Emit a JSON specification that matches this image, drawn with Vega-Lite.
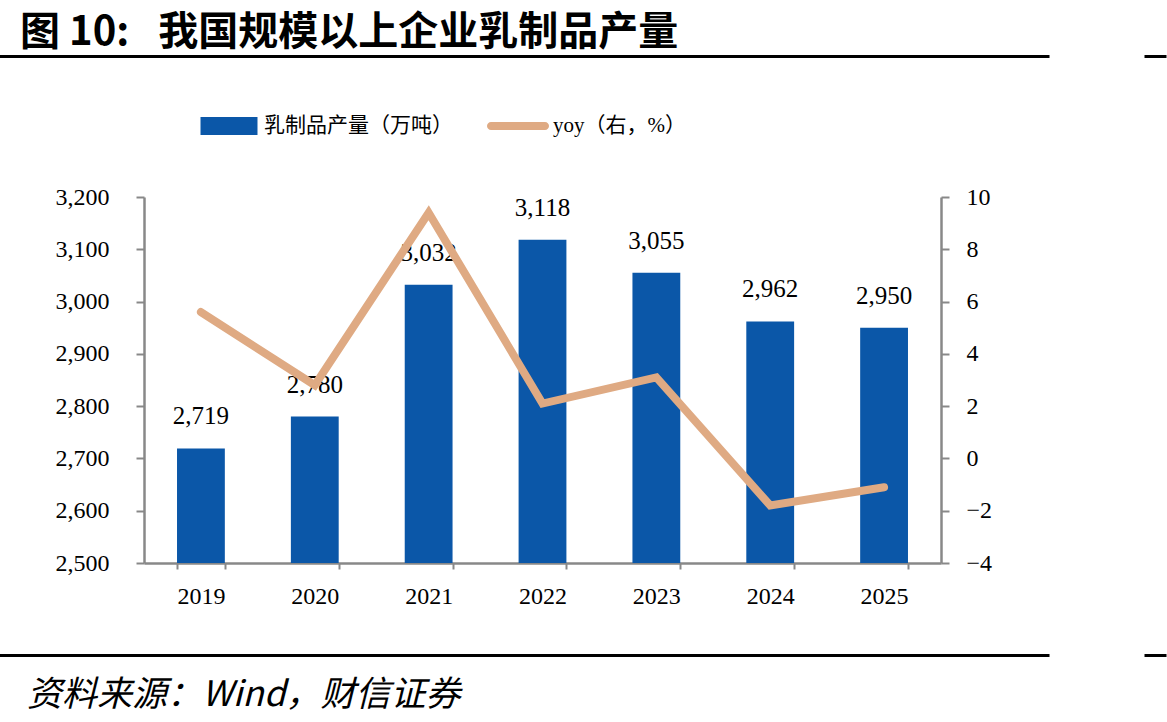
{
  "$schema": "https://vega.github.io/schema/vega-lite/v6.json",
  "padding": {"left": 0, "right": 0, "top": 12, "bottom": 0},
  "background": "white",
  "title": {
    "text": "图 10:\u2002 我国规模以上企业乳制品产量",
    "anchor": "start",
    "dx": 20,
    "font": "Noto Sans CJK SC",
    "fontWeight": "bold",
    "fontSize": 40,
    "color": "black",
    "offset": 2
  },
  "columns": 1,
  "align": "none",
  "spacing": 35,
  "concat": [
    {
      "width": 905,
      "height": 91,
      "data": {"values": [{"v": 0}]},
      "mark": {"type": "point", "opacity": 0},
      "encoding": {
        "x": {"field": "v", "type": "quantitative", "scale": {"range": [-145, 905]}, "axis": {"orient": "top", "domain": true, "domainColor": "black", "domainWidth": 3, "ticks": false, "labels": false, "title": null, "grid": false}},
        "y": {"field": "v", "type": "quantitative", "scale": {"domain": [0, 1]}, "axis": {"orient": "right", "offset": 95, "values": [1], "domain": false, "labels": false, "ticks": true, "tickSize": 22, "tickWidth": 3, "tickColor": "black", "title": null, "grid": false}}
      }
    },
    {
      "width": 797,
      "height": 366,
      "data": {
        "values": [
          {"year": "2019", "output": 2719, "yoy": 5.6},
          {"year": "2020", "output": 2780, "yoy": 2.8},
          {"year": "2021", "output": 3032, "yoy": 9.4},
          {"year": "2022", "output": 3118, "yoy": 2.1},
          {"year": "2023", "output": 3055, "yoy": 3.1},
          {"year": "2024", "output": 2962, "yoy": -1.8},
          {"year": "2025", "output": 2950, "yoy": -1.1}
        ]
      },
      "encoding": {
        "x": {
          "field": "year",
          "type": "ordinal",
          "scale": {"paddingInner": 0.58, "paddingOuter": 0.29},
          "axis": {
            "title": null,
            "labelAngle": 0,
            "labelFont": "Liberation Serif",
            "labelFontSize": 24,
            "labelColor": "black",
            "labelPadding": 15,
            "tickBand": "extent",
            "tickSize": 6,
            "tickWidth": 2,
            "tickColor": "#888888",
            "domainColor": "#888888",
            "domainWidth": 2.5,
            "minExtent": 55,
            "grid": false
          }
        }
      },
      "layer": [
        {
          "encoding": {
            "y": {
              "field": "output",
              "type": "quantitative",
              "scale": {"domain": [2500, 3200], "nice": false, "zero": false},
              "axis": {
                "orient": "left",
                "title": null,
                "values": [2500, 2600, 2700, 2800, 2900, 3000, 3100, 3200],
                "format": ",d",
                "labelFont": "Liberation Serif",
                "labelFontSize": 24,
                "labelColor": "black",
                "labelPadding": 27,
                "tickSize": 8,
                "tickWidth": 2,
                "tickColor": "#888888",
                "domainColor": "#888888",
                "domainWidth": 2.5,
                "minExtent": 144,
                "grid": false
              }
            }
          },
          "layer": [
            {
              "mark": {"type": "bar", "clip": true},
              "encoding": {
                "color": {
                  "datum": "乳制品产量（万吨）",
                  "type": "nominal",
                  "scale": {"domain": ["乳制品产量（万吨）", "yoy（右，%）"], "range": ["#0B57A8", "#DFAA83"]},
                  "legend": {
                    "orient": "none",
                    "legendX": 54,
                    "legendY": 39,
                    "direction": "horizontal",
                    "title": null,
                    "padding": 0,
                    "symbolSize": 3844,
                    "labelFont": "Liberation Serif, Noto Sans CJK SC",
                    "labelFontSize": 21,
                    "labelColor": "black",
                    "labelOffset": 4,
                    "labelLimit": 400,
                    "columnPadding": 33,
                    "encode": {
                      "symbols": {
                        "update": {
                          "shape": {"signal": "datum.value === 'yoy（右，%）' ? 'M-0.871,-0.129H0.871A0.129,0.129 0 0 1 0.871,0.129H-0.871A0.129,0.129 0 0 1 -0.871,-0.129Z' : 'M-0.919,-0.29H0.919V0.29H-0.919Z'"},
                          "fill": {"scale": "color", "field": "value"},
                          "stroke": {"value": "transparent"},
                          "strokeWidth": {"value": 0},
                          "size": {"value": 3844},
                          "opacity": {"value": 1}
                        }
                      }
                    }
                  }
                }
              }
            },
            {
              "mark": {"type": "text", "font": "Liberation Serif", "fontSize": 25, "color": "black", "baseline": "alphabetic", "dy": -24},
              "encoding": {
                "text": {"field": "output", "type": "quantitative", "format": ","}
              }
            }
          ]
        },
        {
          "mark": {"type": "line", "strokeWidth": 8, "strokeCap": "round", "strokeJoin": "miter"},
          "encoding": {
            "y": {
              "field": "yoy",
              "type": "quantitative",
              "scale": {"domain": [-4, 10], "nice": false, "zero": false},
              "axis": {
                "orient": "right",
                "title": null,
                "values": [-4, -2, 0, 2, 4, 6, 8, 10],
                "labelFont": "Liberation Serif",
                "labelFontSize": 24,
                "labelColor": "black",
                "labelPadding": 17,
                "tickSize": 8,
                "tickWidth": 2,
                "tickColor": "#888888",
                "domainColor": "#888888",
                "domainWidth": 2.5,
                "grid": false
              }
            },
            "color": {"datum": "yoy（右，%）", "type": "nominal"}
          }
        }
      ],
      "resolve": {"scale": {"y": "independent"}}
    },
    {
      "width": 905,
      "height": 1,
      "title": {
        "text": "资料来源：Wind，财信证券",
        "orient": "bottom",
        "anchor": "start",
        "dx": -117,
        "offset": 19,
        "font": "Noto Sans CJK SC",
        "fontStyle": "italic",
        "fontWeight": "normal",
        "fontSize": 35,
        "color": "black"
      },
      "data": {"values": [{"v": 0}]},
      "mark": {"type": "point", "opacity": 0},
      "encoding": {
        "x": {"field": "v", "type": "quantitative", "scale": {"range": [-145, 905]}, "axis": {"orient": "top", "domain": true, "domainColor": "black", "domainWidth": 3, "ticks": false, "labels": false, "title": null, "grid": false}},
        "y": {"field": "v", "type": "quantitative", "scale": {"domain": [0, 1]}, "axis": {"orient": "right", "offset": 95, "values": [1], "domain": false, "labels": false, "ticks": true, "tickSize": 22, "tickWidth": 3, "tickColor": "black", "title": null, "grid": false}}
      }
    }
  ],
  "config": {
    "view": {"stroke": null}
  }
}
